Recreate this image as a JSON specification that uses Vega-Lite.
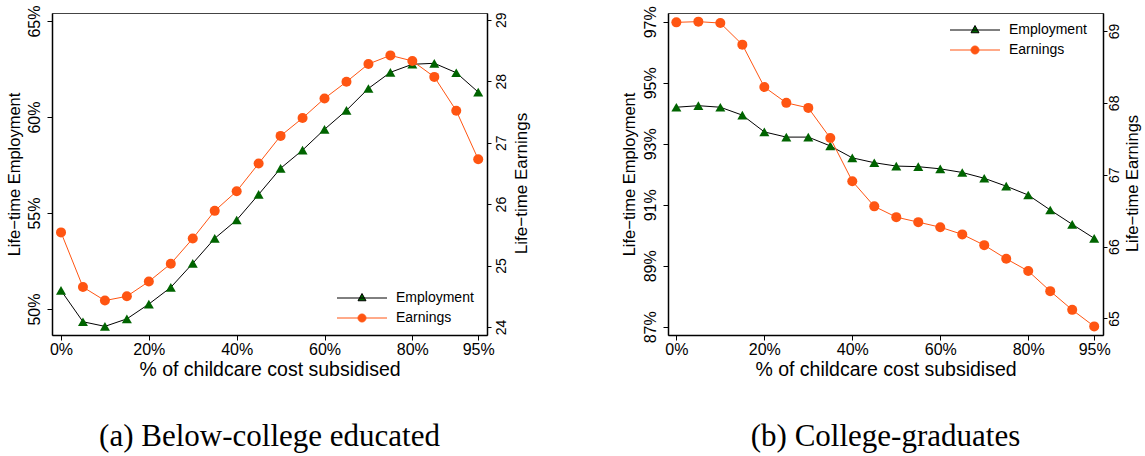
{
  "$schema": "https://vega.github.io/schema/vega-lite/v6.json",
  "background": "white",
  "padding": {"left": 5, "top": 4, "right": 2, "bottom": 2},
  "data": {"values": [
    {"p":"a","x":0,"s":"Employment","v":50.97},{"p":"a","x":5,"s":"Employment","v":49.34},{"p":"a","x":10,"s":"Employment","v":49.10},{"p":"a","x":15,"s":"Employment","v":49.49},{"p":"a","x":20,"s":"Employment","v":50.26},{"p":"a","x":25,"s":"Employment","v":51.13},{"p":"a","x":30,"s":"Employment","v":52.38},{"p":"a","x":35,"s":"Employment","v":53.68},{"p":"a","x":40,"s":"Employment","v":54.64},{"p":"a","x":45,"s":"Employment","v":55.97},{"p":"a","x":50,"s":"Employment","v":57.33},{"p":"a","x":55,"s":"Employment","v":58.28},{"p":"a","x":60,"s":"Employment","v":59.36},{"p":"a","x":65,"s":"Employment","v":60.35},{"p":"a","x":70,"s":"Employment","v":61.49},{"p":"a","x":75,"s":"Employment","v":62.33},{"p":"a","x":80,"s":"Employment","v":62.75},{"p":"a","x":85,"s":"Employment","v":62.80},{"p":"a","x":90,"s":"Employment","v":62.31},{"p":"a","x":95,"s":"Employment","v":61.30},
    {"p":"a","x":0,"s":"Earnings","v":25.54},{"p":"a","x":5,"s":"Earnings","v":24.65},{"p":"a","x":10,"s":"Earnings","v":24.43},{"p":"a","x":15,"s":"Earnings","v":24.50},{"p":"a","x":20,"s":"Earnings","v":24.74},{"p":"a","x":25,"s":"Earnings","v":25.03},{"p":"a","x":30,"s":"Earnings","v":25.44},{"p":"a","x":35,"s":"Earnings","v":25.89},{"p":"a","x":40,"s":"Earnings","v":26.21},{"p":"a","x":45,"s":"Earnings","v":26.66},{"p":"a","x":50,"s":"Earnings","v":27.11},{"p":"a","x":55,"s":"Earnings","v":27.40},{"p":"a","x":60,"s":"Earnings","v":27.72},{"p":"a","x":65,"s":"Earnings","v":27.99},{"p":"a","x":70,"s":"Earnings","v":28.28},{"p":"a","x":75,"s":"Earnings","v":28.42},{"p":"a","x":80,"s":"Earnings","v":28.33},{"p":"a","x":85,"s":"Earnings","v":28.07},{"p":"a","x":90,"s":"Earnings","v":27.52},{"p":"a","x":95,"s":"Earnings","v":26.73},
    {"p":"b","x":0,"s":"Employment","v":94.20},{"p":"b","x":5,"s":"Employment","v":94.25},{"p":"b","x":10,"s":"Employment","v":94.20},{"p":"b","x":15,"s":"Employment","v":93.94},{"p":"b","x":20,"s":"Employment","v":93.39},{"p":"b","x":25,"s":"Employment","v":93.22},{"p":"b","x":30,"s":"Employment","v":93.22},{"p":"b","x":35,"s":"Employment","v":92.93},{"p":"b","x":40,"s":"Employment","v":92.54},{"p":"b","x":45,"s":"Employment","v":92.38},{"p":"b","x":50,"s":"Employment","v":92.27},{"p":"b","x":55,"s":"Employment","v":92.25},{"p":"b","x":60,"s":"Employment","v":92.18},{"p":"b","x":65,"s":"Employment","v":92.06},{"p":"b","x":70,"s":"Employment","v":91.87},{"p":"b","x":75,"s":"Employment","v":91.61},{"p":"b","x":80,"s":"Employment","v":91.32},{"p":"b","x":85,"s":"Employment","v":90.83},{"p":"b","x":90,"s":"Employment","v":90.36},{"p":"b","x":95,"s":"Employment","v":89.90},
    {"p":"b","x":0,"s":"Earnings","v":69.12},{"p":"b","x":5,"s":"Earnings","v":69.13},{"p":"b","x":10,"s":"Earnings","v":69.11},{"p":"b","x":15,"s":"Earnings","v":68.81},{"p":"b","x":20,"s":"Earnings","v":68.22},{"p":"b","x":25,"s":"Earnings","v":68.00},{"p":"b","x":30,"s":"Earnings","v":67.93},{"p":"b","x":35,"s":"Earnings","v":67.51},{"p":"b","x":40,"s":"Earnings","v":66.91},{"p":"b","x":45,"s":"Earnings","v":66.56},{"p":"b","x":50,"s":"Earnings","v":66.41},{"p":"b","x":55,"s":"Earnings","v":66.34},{"p":"b","x":60,"s":"Earnings","v":66.27},{"p":"b","x":65,"s":"Earnings","v":66.17},{"p":"b","x":70,"s":"Earnings","v":66.02},{"p":"b","x":75,"s":"Earnings","v":65.83},{"p":"b","x":80,"s":"Earnings","v":65.66},{"p":"b","x":85,"s":"Earnings","v":65.38},{"p":"b","x":90,"s":"Earnings","v":65.12},{"p":"b","x":95,"s":"Earnings","v":64.89}
  ]},
  "spacing": 90,
  "resolve": {"scale": {"stroke": "independent"}, "legend": {"stroke": "independent"}},
  "hconcat": [
    {
      "width": 435, "height": 322,
      "title": {"text": "(a) Below-college educated", "orient": "bottom", "offset": 43},
      "transform": [{"filter": "datum.p === 'a'"}],
      "encoding": {"x": {"field": "x", "type": "quantitative", "scale": {"domain": [-2.05, 97], "nice": false, "zero": false},
        "axis": {"values": [0,20,40,60,80,95], "labelExpr": "datum.value + '%'", "title": "% of childcare cost subsidised", "labelFontSize": 16, "titleFontSize": 19.5, "labelPadding": 1, "titlePadding": 3}}},
      "layer": [
        {"transform": [{"filter": "datum.s === 'Employment'"}],
         "encoding": {"y": {"field": "v", "type": "quantitative", "scale": {"domain": [48.65, 65.42], "nice": false, "zero": false},
           "axis": {"orient": "left", "values": [50,55,60,65], "labelExpr": "datum.value + '%'", "labelAngle": 270, "labelAlign": "center", "labelBaseline": "bottom", "labelFontSize": 16, "labelPadding": 5, "title": "Life−time Employment", "titleFontSize": 16.5, "titlePadding": 4}}},
         "layer": [
           {"mark": {"type": "line", "strokeWidth": 1}, "encoding": {"stroke": {"field": "s", "type": "nominal", "scale": {"domain": ["Employment","Earnings"], "range": ["black","#FF5512"]},
             "legend": {"title": null, "orient": "none", "legendX": 303, "legendY": 278, "padding": 0, "labelFontSize": 14, "labelColor": "black", "symbolSize": 100, "symbolStrokeWidth": 1, "symbolOffset": 0, "labelOffset": 27, "rowPadding": 6,
               "symbolType": {"expr": "datum.value === 'Employment' ? 'M-5,0H5M0,-0.9L0.8,0.55L-0.8,0.55Z' : 'M-5,0H5M0.8,0A0.8,0.8 0 1,1 -0.8,0A0.8,0.8 0 1,1 0.8,0Z'"},
               "symbolFillColor": {"expr": "datum.value === 'Employment' ? '#006400' : '#FF5512'"}}}}},
           {"mark": {"type": "point", "shape": "triangle-up", "filled": true, "color": "#006400", "size": 100, "opacity": 1}}
         ]},
        {"transform": [{"filter": "datum.s === 'Earnings'"}],
         "encoding": {"y": {"field": "v", "type": "quantitative", "scale": {"domain": [23.87, 29.11], "nice": false, "zero": false},
           "axis": {"orient": "right", "values": [24,25,26,27,28,29], "labelAngle": 270, "labelAlign": "center", "labelBaseline": "top", "labelFontSize": 14, "labelPadding": 3, "tickSize": 4, "title": "Life−time Earnings", "titleAngle": 270, "titleBaseline": "top", "titleFontSize": 17, "titlePadding": 5, "titleY": 170}}},
         "layer": [
           {"mark": {"type": "line", "strokeWidth": 1}, "encoding": {"stroke": {"field": "s", "type": "nominal", "scale": {"domain": ["Employment","Earnings"], "range": ["black","#FF5512"]}}}},
           {"mark": {"type": "point", "shape": "circle", "filled": true, "color": "#FF5512", "size": 100, "opacity": 1}}
         ]}
      ],
      "resolve": {"scale": {"y": "independent"}}
    },
    {
      "width": 435, "height": 322,
      "title": {"text": "(b) College-graduates", "orient": "bottom", "offset": 43},
      "transform": [{"filter": "datum.p === 'b'"}],
      "encoding": {"x": {"field": "x", "type": "quantitative", "scale": {"domain": [-1.9, 97], "nice": false, "zero": false},
        "axis": {"values": [0,20,40,60,80,95], "labelExpr": "datum.value + '%'", "title": "% of childcare cost subsidised", "labelFontSize": 16, "titleFontSize": 19.5, "labelPadding": 1, "titlePadding": 3}}},
      "layer": [
        {"transform": [{"filter": "datum.s === 'Employment'"}],
         "encoding": {"y": {"field": "v", "type": "quantitative", "scale": {"domain": [86.73, 97.29], "nice": false, "zero": false},
           "axis": {"orient": "left", "values": [87,89,91,93,95,97], "labelExpr": "datum.value + '%'", "labelAngle": 270, "labelAlign": "center", "labelBaseline": "bottom", "labelFontSize": 16, "labelPadding": 5, "title": "Life−time Employment", "titleFontSize": 16.5, "titlePadding": 5}}},
         "layer": [
           {"mark": {"type": "line", "strokeWidth": 1}, "encoding": {"stroke": {"field": "s", "type": "nominal", "scale": {"domain": ["Employment","Earnings"], "range": ["black","#FF5512"]},
             "legend": {"title": null, "orient": "none", "legendX": 300, "legendY": 10, "padding": 0, "labelFontSize": 14, "labelColor": "black", "symbolSize": 100, "symbolStrokeWidth": 1, "symbolOffset": 0, "labelOffset": 27, "rowPadding": 6,
               "symbolType": {"expr": "datum.value === 'Employment' ? 'M-5,0H5M0,-0.9L0.8,0.55L-0.8,0.55Z' : 'M-5,0H5M0.8,0A0.8,0.8 0 1,1 -0.8,0A0.8,0.8 0 1,1 0.8,0Z'"},
               "symbolFillColor": {"expr": "datum.value === 'Employment' ? '#006400' : '#FF5512'"}}}}},
           {"mark": {"type": "point", "shape": "triangle-up", "filled": true, "color": "#006400", "size": 100, "opacity": 1}}
         ]},
        {"transform": [{"filter": "datum.s === 'Earnings'"}],
         "encoding": {"y": {"field": "v", "type": "quantitative", "scale": {"domain": [64.77, 69.25], "nice": false, "zero": false},
           "axis": {"orient": "right", "values": [65,66,67,68,69], "labelAngle": 270, "labelAlign": "center", "labelBaseline": "top", "labelFontSize": 14, "labelPadding": 0, "tickSize": 4, "title": "Life−time Earnings", "titleAngle": 270, "titleBaseline": "top", "titleFontSize": 16.5, "titlePadding": 3, "titleY": 170}}},
         "layer": [
           {"mark": {"type": "line", "strokeWidth": 1}, "encoding": {"stroke": {"field": "s", "type": "nominal", "scale": {"domain": ["Employment","Earnings"], "range": ["black","#FF5512"]}}}},
           {"mark": {"type": "point", "shape": "circle", "filled": true, "color": "#FF5512", "size": 100, "opacity": 1}}
         ]}
      ],
      "resolve": {"scale": {"y": "independent"}}
    }
  ],
  "config": {
    "font": "Liberation Sans",
    "view": {"stroke": "#444", "strokeWidth": 1},
    "axis": {"grid": false, "domainColor": "black", "domainWidth": 1.5, "tickColor": "black", "tickWidth": 1, "tickSize": 5, "labelColor": "black", "titleColor": "black", "labelFont": "Liberation Sans", "titleFont": "Liberation Sans", "titleFontWeight": "normal", "labelFlush": false, "labelOverlap": false},
    "legend": {"labelFont": "Liberation Sans"},
    "title": {"font": "Liberation Serif", "fontSize": 31, "fontWeight": "normal", "color": "black", "anchor": "middle"}
  }
}
